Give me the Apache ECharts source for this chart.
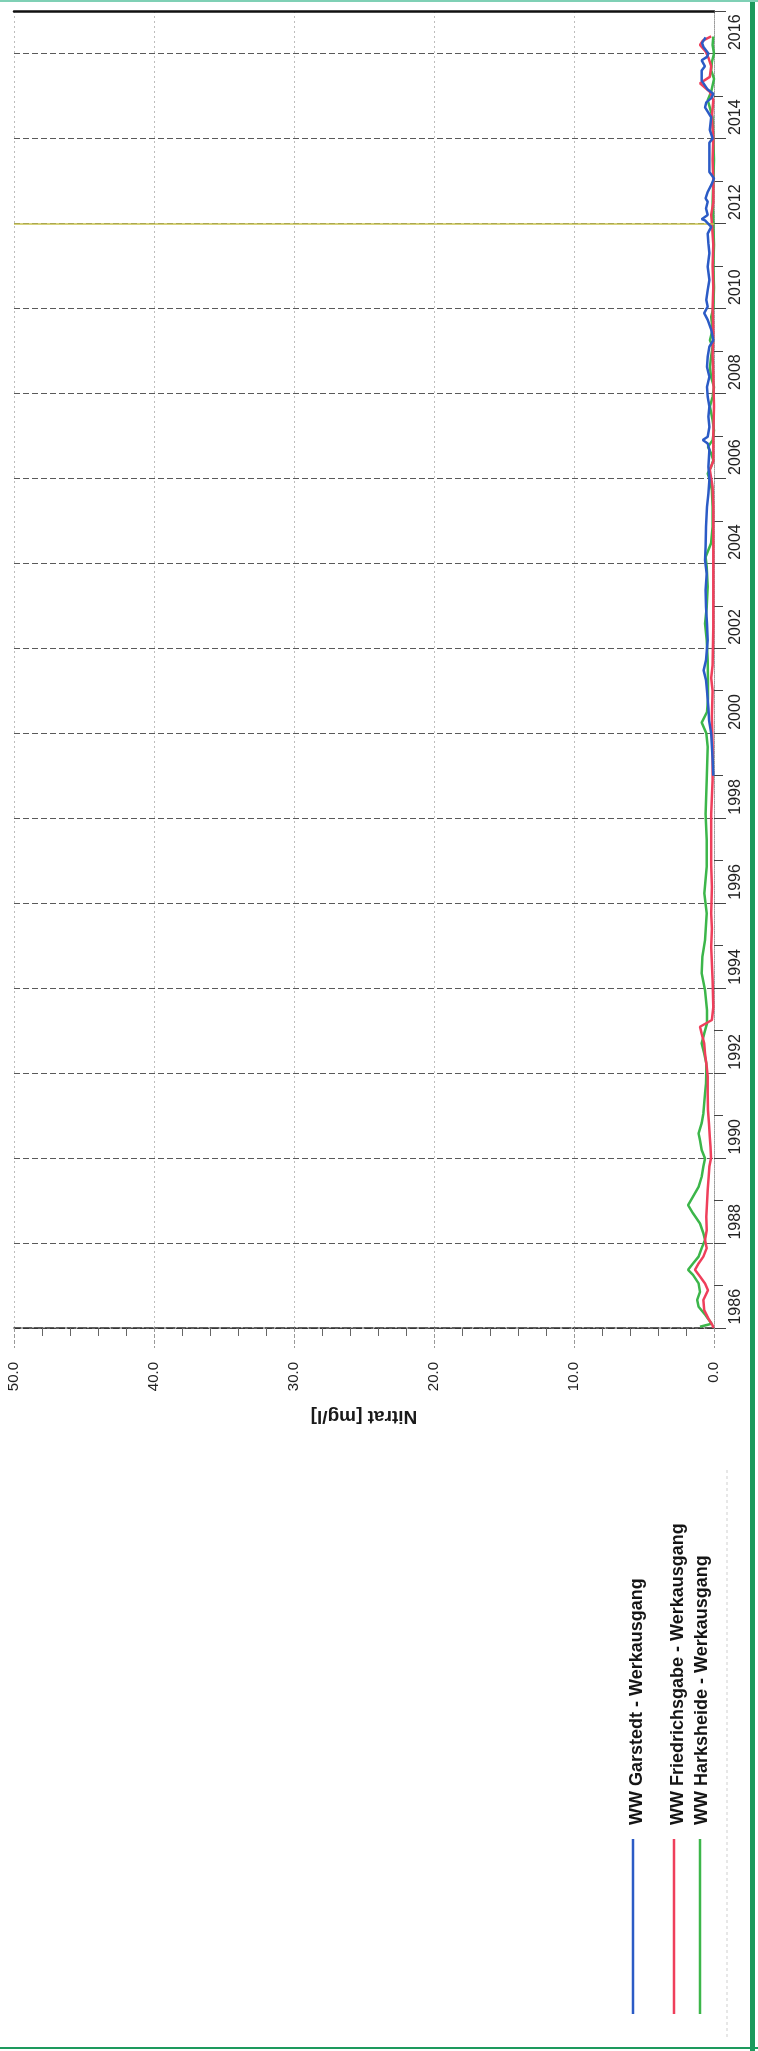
<!DOCTYPE html>
<html>
<head>
<meta charset="utf-8">
<title>Nitrat Werkausgang</title>
<script src="https://cdn.jsdelivr.net/npm/echarts@6.0.0/dist/echarts.min.js"></script>
<style>
    html, body { margin: 0; padding: 0; background: #fff; }
    #chart { width: 758px; height: 2051px; }
</style>
</head>
<body>
<div id="chart"></div>
<script>
// Nitrat [mg/l] am Werkausgang, Zeit als Dezimaljahr (Blatt ist um 90° gedreht)
var valueTicks = [0, 10, 20, 30, 40, 50];
var yearLabels = [1986, 1988, 1990, 1992, 1994, 1996, 1998, 2000, 2002, 2004, 2006, 2008, 2010, 2012, 2014, 2016];

// WW Garstedt
var garstedtYears = [1999.0, 1999.4, 1999.99, 2000.3, 2000.6, 2001.0, 2001.25, 2001.48, 2001.72, 2002.19, 2002.58, 2002.97,
    2003.37, 2003.76, 2004.07, 2004.39, 2004.86, 2005.33, 2005.64, 2005.96, 2006.27, 2006.67, 2006.82, 2006.9, 2006.98,
    2007.21, 2007.45, 2007.69, 2007.92, 2008.15, 2008.39, 2008.62, 2008.86, 2009.1, 2009.25, 2009.5, 2009.73, 2009.89,
    2010.04, 2010.2, 2010.43, 2010.67, 2010.98, 2011.3, 2011.53, 2011.76, 2011.92, 2012.07, 2012.1, 2012.2, 2012.35,
    2012.51, 2012.59, 2012.74, 2012.9, 2013.06, 2013.21, 2013.5, 2013.9, 2014.0, 2014.2, 2014.5, 2014.73, 2014.85,
    2014.95, 2015.05, 2015.15, 2015.36, 2015.6, 2015.7, 2015.84, 2015.92, 2016.0, 2016.15, 2016.25, 2016.38];
var garstedtValues = [0.05, 0.1, 0.2, 0.35, 0.4, 0.5, 0.57, 0.74, 0.57, 0.45, 0.5, 0.57,
    0.6, 0.52, 0.64, 0.6, 0.57, 0.5, 0.4, 0.33, 0.4, 0.33, 0.45, 0.8, 0.45,
    0.33, 0.4, 0.33, 0.45, 0.5, 0.33, 0.5, 0.45, 0.33, 0.05, 0.2, 0.45, 0.7,
    0.45, 0.55, 0.45, 0.33, 0.45, 0.33, 0.4, 0.45, 0.2, 0.64, 0.88, 0.45, 0.57,
    0.45, 0.6, 0.45, 0.2, 0.0, 0.33, 0.33, 0.33, 0.1, 0.3, 0.2, 0.64, 0.55,
    0.2, 0.05, 0.45, 0.88, 0.88, 0.65, 0.88, 0.5, 0.4, 0.75, 0.85, 0.6];

// WW Friedrichsgabe
var friedrichsgabeYears = [1986.0, 1986.06, 1986.22, 1986.42, 1986.66, 1986.89, 1987.05, 1987.21, 1987.37, 1987.52,
    1987.68, 1987.88, 1988.07, 1988.3, 1988.62, 1988.93, 1989.25, 1989.56, 1989.8, 1990.0, 1990.27, 1990.5, 1990.82,
    1991.13, 1991.52, 1991.92, 1992.15, 1992.46, 1992.7, 1992.93, 1993.09, 1993.25, 1993.55, 1994.19, 1994.97, 1995.4,
    1995.76, 1996.38, 1996.9, 1997.33, 1998.1, 1998.9, 1999.68, 2000.4, 2001.0, 2001.3, 2001.6, 2002.5, 2003.5, 2004.5,
    2005.3, 2005.8, 2006.0, 2006.2, 2006.4, 2007.0, 2007.7, 2008.4, 2008.9, 2009.4, 2010.0, 2010.5, 2011.0, 2011.5,
    2012.0, 2012.2, 2012.5, 2013.0, 2013.5, 2014.0, 2014.5, 2014.9, 2015.1, 2015.3, 2015.45, 2015.7, 2015.9, 2016.05,
    2016.2, 2016.3, 2016.4];
var friedrichsgabeValues = [0.05, 0.1, 0.4, 0.7, 0.76, 0.43, 0.64, 1.0, 1.36, 1.1,
    0.76, 0.52, 0.64, 0.52, 0.55, 0.5, 0.45, 0.38, 0.33, 0.21, 0.25, 0.3, 0.36,
    0.43, 0.45, 0.45, 0.52, 0.64, 0.7, 0.88, 1.0, 0.15, 0.05, 0.1, 0.2, 0.15,
    0.2, 0.15, 0.2, 0.2, 0.2, 0.1, 0.1, 0.15, 0.1, 0.2, 0.1, 0.05, 0.05, 0.05,
    0.05, 0.1, 0.2, 0.3, 0.05, 0.05, 0.0, 0.05, 0.1, 0.05, 0.1, 0.05, 0.1, 0.05,
    0.15, 0.2, 0.05, 0.05, 0.1, 0.05, 0.15, 0.05, 0.3, 1.0, 0.3, 0.2, 0.4, 0.6,
    1.0, 0.8, 0.2];

// WW Harksheide
var harksheideYears = [1986.03, 1986.1, 1986.3, 1986.5, 1986.66, 1986.85, 1987.05, 1987.25, 1987.37, 1987.52, 1987.68,
    1987.88, 1988.07, 1988.23, 1988.46, 1988.7, 1988.89, 1989.09, 1989.32, 1989.56, 1989.8, 1989.99, 1990.19, 1990.42,
    1990.58, 1990.82, 1991.05, 1991.29, 1991.52, 1991.76, 1992.0, 1992.23, 1992.46, 1992.7, 1992.93, 1993.17, 1993.48,
    1993.95, 1994.35, 1994.74, 1995.13, 1995.76, 1996.23, 1996.86, 1997.49, 1998.1, 1998.9, 1999.68, 2000.0, 2000.25,
    2000.5, 2000.8, 2001.25, 2001.72, 2002.19, 2002.58, 2002.97, 2003.45, 2003.92, 2004.15, 2004.47, 2004.86, 2005.33,
    2005.72, 2005.96, 2006.11, 2006.27, 2006.43, 2006.59, 2006.74, 2006.9, 2007.13, 2007.37, 2007.69, 2007.92, 2008.15,
    2008.39, 2008.62, 2008.86, 2009.1, 2009.25, 2009.5, 2009.8, 2010.0, 2010.5, 2011.0, 2011.5, 2012.0, 2012.5, 2013.0,
    2013.5, 2014.0, 2014.5, 2014.9, 2015.1, 2015.4, 2015.6, 2015.8, 2016.0, 2016.2, 2016.4];
var harksheideValues = [1.0, 0.17, 0.6, 1.1, 1.2, 1.0, 1.1, 1.5, 1.85, 1.5, 1.1,
    0.88, 0.64, 0.76, 1.0, 1.5, 1.85, 1.5, 1.1, 0.88, 0.76, 0.64, 0.88, 1.0,
    1.1, 0.88, 0.76, 0.7, 0.64, 0.57, 0.55, 0.55, 0.7, 0.88, 0.7, 0.5, 0.5,
    0.64, 0.88, 0.83, 0.64, 0.52, 0.69, 0.52, 0.52, 0.6, 0.52, 0.45, 0.55, 0.88,
    0.5, 0.43, 0.43, 0.45, 0.52, 0.64, 0.52, 0.45, 0.52, 0.6, 0.21, 0.1, 0.1,
    0.15, 0.29, 0.45, 0.21, 0.05, 0.21, 0.43, 0.1, 0.0, 0.1, 0.29, 0.1, 0.0,
    0.21, 0.29, 0.21, 0.1, 0.29, 0.1, 0.2, 0.05, 0.0, 0.05, 0.0, 0.05, 0.1, 0.05,
    0.0, 0.05, 0.1, 0.45, 0.2, 0.0, 0.2, 0.15, 0.0, 0.1, 0.05];

var seriesNames = ['WW Garstedt - Werkausgang', 'WW Friedrichsgabe - Werkausgang', 'WW Harksheide - Werkausgang'];
var seriesColors = ['#2b5bc6', '#ef3f5b', '#3cb64a'];

function pairs(years, values) {
    var out = [];
    for (var i = 0; i < years.length; i++) {
        out.push([values[i], years[i]]);
    }
    return out;
}

var chart = echarts.init(document.getElementById('chart'), null, {renderer: 'canvas'});
var font = '"Liberation Sans", Arial, sans-serif';

//Linienreihen
var lines = [
    pairs(garstedtYears, garstedtValues),
    pairs(friedrichsgabeYears, friedrichsgabeValues),
    pairs(harksheideYears, harksheideValues)
];
var series = [];
for (var s = 2; s >= 0; s--) {
    series.push({
        name: seriesNames[s],
        type: 'line',
        xAxisIndex: 0,
        yAxisIndex: 0,
        data: lines[s],
        symbol: 'none',
        clip: false,
        lineStyle: {color: seriesColors[s], width: 2.5},
        itemStyle: {color: seriesColors[s]},
        z: 3 + (2 - s)
    });
}
//gelbliche Gitterlinie 2012 (Scan)
series[0].markLine = {
    silent: true,
    symbol: 'none',
    label: {show: false},
    lineStyle: {color: '#c7c24e', width: 1.5, type: 'solid'},
    data: [{yAxis: 2012}]
};

//Legende (gedreht)
var legendX = [633, 674, 700];
var legendTextX = [637, 678, 702];
var graphic = [];
for (var k = 0; k < 3; k++) {
    graphic.push({
        type: 'line',
        shape: {x1: legendX[k], y1: 2014, x2: legendX[k], y2: 1839},
        style: {stroke: seriesColors[k], lineWidth: 2.5}
    });
    graphic.push({
        type: 'text',
        x: legendTextX[k],
        y: 1825,
        rotation: Math.PI / 2,
        style: {
            text: seriesNames[k],
            font: 'bold 18px ' + font,
            fill: '#151515',
            textAlign: 'left',
            textVerticalAlign: 'middle',
            align: 'left',
            verticalAlign: 'middle'
        }
    });
}
//Rand des Scans
graphic.push({type: 'line', shape: {x1: 727, y1: 1470, x2: 727, y2: 2040}, style: {stroke: '#cfcfcf', lineWidth: 1, lineDash: [3, 3]}});
graphic.push({type: 'rect', shape: {x: 750, y: 0, width: 5, height: 2051}, style: {fill: '#1d9a5d'}});
graphic.push({type: 'rect', shape: {x: 0, y: 0, width: 758, height: 2}, style: {fill: '#7fd0b5'}});
graphic.push({type: 'rect', shape: {x: 0, y: 2047, width: 758, height: 2}, style: {fill: '#1d9a5d'}});

var option = {
    backgroundColor: '#fff',
    animation: false,
    textStyle: {fontFamily: font},
    grid: {
        left: 14,
        right: 44,
        top: 11,
        bottom: 723,
        containLabel: false,
        outerBoundsMode: 'none'
    },
    xAxis: [{
        type: 'value',
        inverse: true,
        min: valueTicks[0],
        max: valueTicks[valueTicks.length - 1],
        interval: 10,
        position: 'bottom',
        name: 'Nitrat [mg/l]',
        nameLocation: 'middle',
        nameRotate: 180,
        nameGap: 88,
        nameTextStyle: {
            fontSize: 19,
            fontWeight: 'bold',
            color: '#1a1a1a',
            align: 'center',
            verticalAlign: 'middle'
        },
        axisLine: {show: true, lineStyle: {color: '#2a2a2a', width: 1.5, type: [9, 2]}},
        axisTick: {show: true, length: 20, lineStyle: {color: '#999', type: 'dashed'}},
        minorTick: {show: true, splitNumber: 5, length: 8, lineStyle: {color: '#666'}},
        axisLabel: {
            rotate: 90,
            margin: 34,
            fontSize: 15,
            color: '#222',
            showMinLabel: true,
            showMaxLabel: true,
            formatter: function (v) {
                return v.toFixed(1);
            }
        },
        splitLine: {show: true, lineStyle: {color: '#bdbdbd', width: 1, type: [2, 3]}}
    }, {
        //obere Randlinie
        type: 'value',
        inverse: true,
        min: 0,
        max: 50,
        interval: 10,
        position: 'top',
        axisLine: {show: true, lineStyle: {color: '#111', width: 2.5}},
        axisTick: {show: false},
        axisLabel: {show: false},
        splitLine: {show: false}
    }],
    yAxis: [{
        type: 'value',
        min: 1986,
        max: 2017,
        interval: 2,
        position: 'right',
        axisLine: {show: true, lineStyle: {color: '#9a9a9a', width: 1, type: 'dotted'}},
        axisTick: {show: true, length: 12, lineStyle: {color: '#444'}},
        minorTick: {show: true, splitNumber: 2, length: 9, lineStyle: {color: '#444'}},
        axisLabel: {show: false},
        splitLine: {show: true, lineStyle: {color: '#5a5a5a', width: 1, type: [6, 3]}}
    }, {
        //Jahresbeschriftung mittig im Jahr
        type: 'value',
        min: yearLabels[0] - 0.5,
        max: yearLabels[yearLabels.length - 1] + 0.5,
        interval: 0.5,
        position: 'right',
        axisLine: {show: false},
        axisTick: {show: false},
        splitLine: {show: false},
        axisLabel: {
            rotate: 90,
            margin: 14,
            fontSize: 16,
            color: '#222',
            formatter: function (v) {
                return yearLabels.indexOf(v) >= 0 ? String(v) : '';
            }
        }
    }],
    graphic: graphic,
    series: series
};
chart.setOption(option);
</script>
</body>
</html>
